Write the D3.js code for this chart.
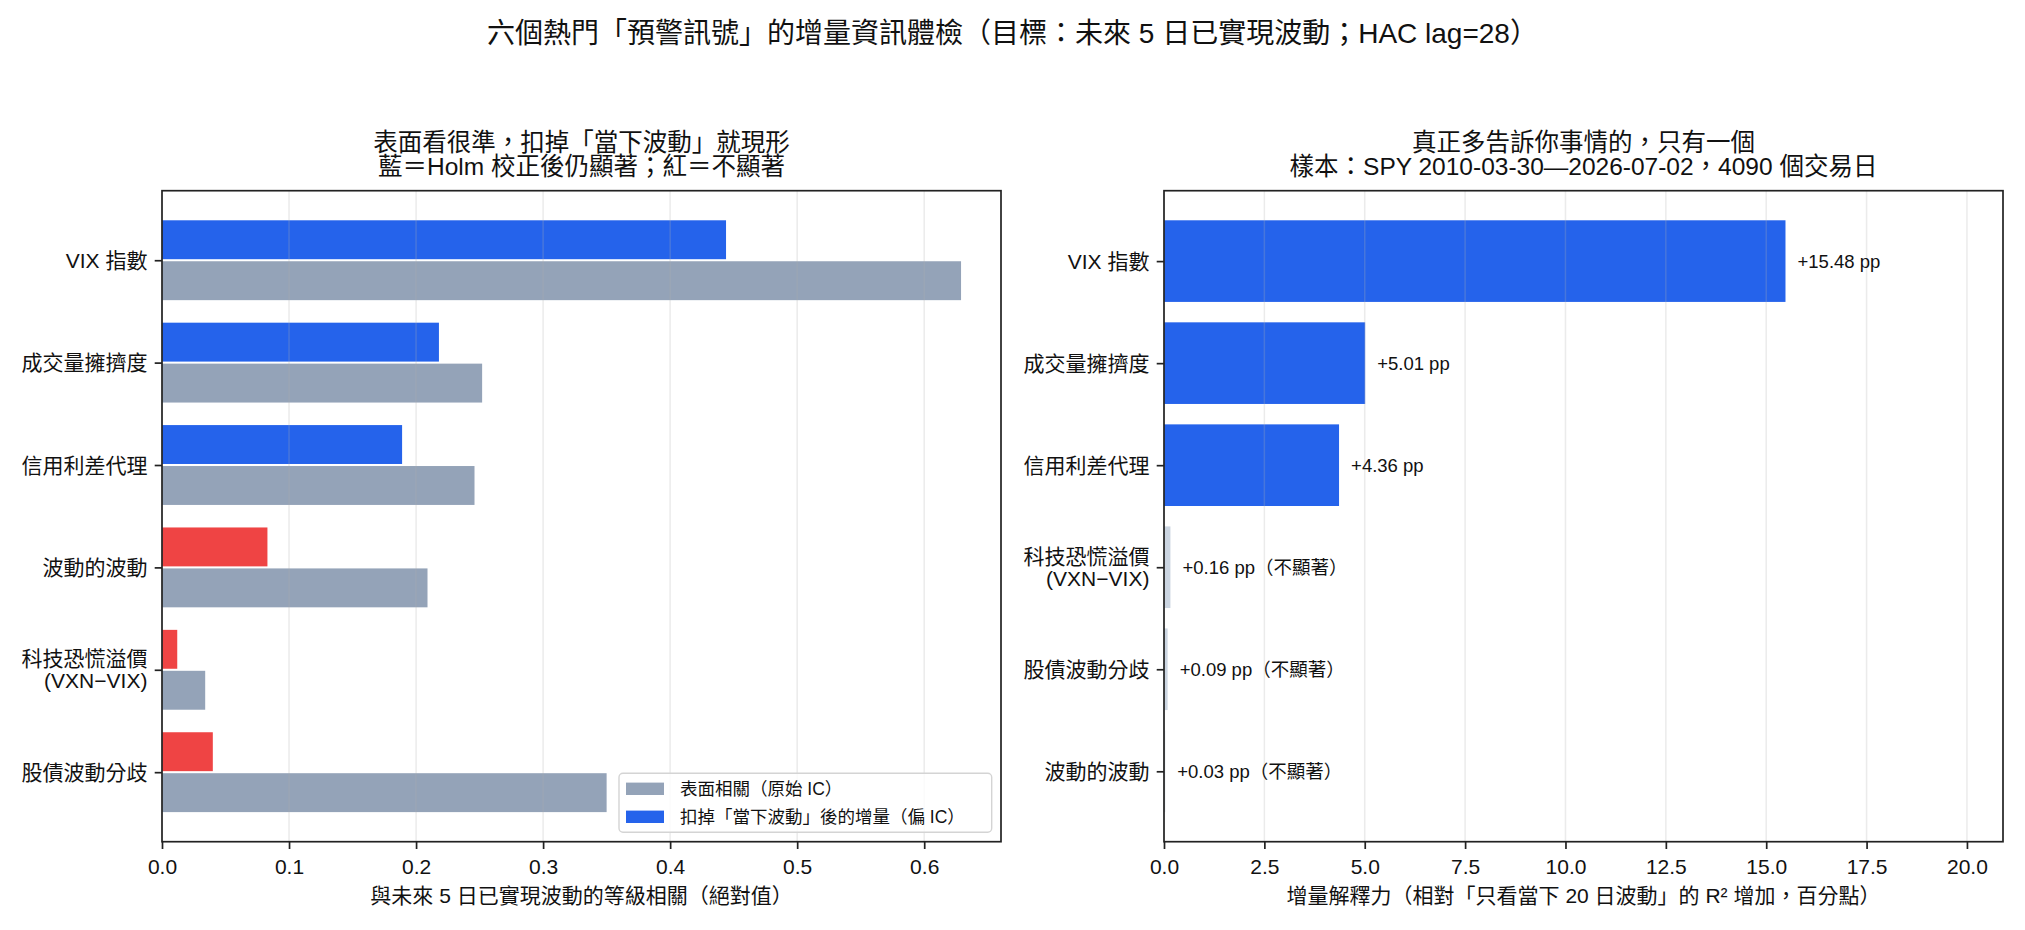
<!doctype html>
<html>
<head>
<meta charset="utf-8">
<title>增量資訊體檢</title>
<script src="https://d3js.org/d3.v7.min.js"></script>
<style>
  body { margin: 0; background: #fff; }
  svg { display: block; font-family: "Liberation Sans", "Noto Sans CJK TC", "Noto Sans CJK SC", sans-serif; }
</style>
</head>
<body>
<script>
// ---- data ----
var leftCats = ["VIX 指數", "成交量擁擠度", "信用利差代理", "波動的波動", "科技恐慌溢價\n(VXN−VIX)", "股債波動分歧"];
var rawIC = [0.629, 0.252, 0.246, 0.209, 0.034, 0.350];
var partialIC = [0.444, 0.218, 0.189, 0.083, 0.012, 0.040];
var partialSig = [true, true, true, false, false, false];

var rightCats = ["VIX 指數", "成交量擁擠度", "信用利差代理", "科技恐慌溢價\n(VXN−VIX)", "股債波動分歧", "波動的波動"];
var deltaR2 = [15.48, 5.01, 4.36, 0.16, 0.09, 0.03];
var deltaSig = [true, true, true, false, false, false];

var leftTicks = [0, 0.1, 0.2, 0.3, 0.4, 0.5, 0.6];
var rightTicks = [0, 2.5, 5, 7.5, 10, 12.5, 15, 17.5, 20];

var legendLabels = ["表面相關（原始 IC）", "扣掉「當下波動」後的增量（偏 IC）"];

var col = { gray: "#94a3b8", blue: "#2563eb", red: "#ef4444", light: "#cbd5e1", ink: "#222" };

var W = 2025, H = 930;
var svg = d3.select("body").append("svg").attr("width", W).attr("height", H);
svg.append("rect").attr("width", W).attr("height", H).attr("fill", "#fff");

svg.append("text").attr("x", W / 2).attr("y", 33).attr("text-anchor", "middle")
  .attr("dominant-baseline", "central").style("font-size", "28px").attr("fill", "#111")
  .text("六個熱門「預警訊號」的增量資訊體檢（目標：未來 5 日已實現波動；HAC lag=28）");

var yTop = 190.7, yBot = 841.7;
var tickFont = 21;

function drawTitle(cx, lines) {
  var t = svg.append("text").attr("text-anchor", "middle").style("font-size", "24.5px").attr("fill", "#111");
  lines.forEach(function (l, i) {
    t.append("tspan").attr("x", cx).attr("y", 142 + i * 24.5).attr("dominant-baseline", "central").text(l);
  });
}

function yLabels(g, cats, y, xr) {
  cats.forEach(function (c, i) {
    var lines = c.split("\n");
    var t = g.append("text").attr("text-anchor", "end").style("font-size", tickFont + "px").attr("fill", "#111");
    lines.forEach(function (l, k) {
      t.append("tspan").attr("x", xr).attr("y", y(i) + (k - (lines.length - 1) / 2) * 22)
        .attr("dominant-baseline", "central").text(l);
    });
  });
}

function frame(g, x, y, ticks, fmt, label, nCats) {
  var x0 = x.range()[0], x1 = x.range()[1];
  // grid
  g.selectAll(".grid").data(ticks).enter().append("line")
    .attr("x1", function (d) { return x(d); }).attr("x2", function (d) { return x(d); })
    .attr("y1", yTop).attr("y2", yBot)
    .attr("stroke", "#b0b0b0").attr("stroke-opacity", 0.25).attr("stroke-width", 1.5);
  // spines
  g.append("rect").attr("x", x0).attr("y", yTop).attr("width", x1 - x0).attr("height", yBot - yTop)
    .attr("fill", "none").attr("stroke", col.ink).attr("stroke-width", 1.7);
  // x ticks
  var xa = g.append("g").attr("transform", "translate(0," + yBot + ")")
    .call(d3.axisBottom(x).tickValues(ticks).tickFormat(fmt).tickSize(7.3));
  xa.select(".domain").remove();
  xa.selectAll("line").attr("stroke", col.ink).attr("stroke-width", 1.7);
  xa.selectAll("text").style("font-size", tickFont + "px").attr("font-family", null).attr("fill", "#111")
    .attr("y", 24.3).attr("dy", "0.36em");
  // y ticks
  var ya = g.append("g").attr("transform", "translate(" + x0 + ",0)")
    .call(d3.axisLeft(y).tickValues(d3.range(nCats)).tickFormat("").tickSize(7.3));
  ya.select(".domain").remove();
  ya.selectAll("line").attr("stroke", col.ink).attr("stroke-width", 1.7);
  g.append("text").attr("x", (x0 + x1) / 2).attr("y", 895).attr("text-anchor", "middle")
    .attr("dominant-baseline", "central").style("font-size", tickFont + "px").attr("fill", "#111").text(label);
}

// ---- left panel ----
var L = svg.append("g");
var xL = d3.scaleLinear().domain([0, d3.max(rawIC) * 1.05]).range([162, 1001]);
var yL = d3.scaleLinear().domain([-0.679, 5.679]).range([yTop, yBot]);
var bh = 0.38, off = 0.2;

L.selectAll(".raw").data(rawIC).enter().append("rect")
  .attr("x", xL(0)).attr("width", function (d) { return xL(d) - xL(0); })
  .attr("y", function (d, i) { return yL(i + off - bh / 2); })
  .attr("height", yL(bh) - yL(0)).attr("fill", col.gray);
L.selectAll(".par").data(partialIC).enter().append("rect")
  .attr("x", xL(0)).attr("width", function (d) { return xL(d) - xL(0); })
  .attr("y", function (d, i) { return yL(i - off - bh / 2); })
  .attr("height", yL(bh) - yL(0)).attr("fill", function (d, i) { return partialSig[i] ? col.blue : col.red; });

frame(L, xL, yL, leftTicks, d3.format(".1f"), "與未來 5 日已實現波動的等級相關（絕對值）", leftCats.length);
yLabels(L, leftCats, yL, 147.4);
drawTitle((162 + 1001) / 2, ["表面看很準，扣掉「當下波動」就現形", "藍＝Holm 校正後仍顯著；紅＝不顯著"]);

// legend
var lgR = 1001 - 9.3, lgB = yBot - 9.4, lgW = 372.7, lgH = 59;
var lg = L.append("g").attr("transform", "translate(" + (lgR - lgW) + "," + (lgB - lgH) + ")");
lg.append("rect").attr("width", lgW).attr("height", lgH).attr("rx", 4)
  .attr("fill", "#fff").attr("fill-opacity", 0.8).attr("stroke", "#d4d4d4").attr("stroke-width", 1.4);
[col.gray, col.blue].forEach(function (c, i) {
  var cy = 15.5 + i * 28;
  lg.append("rect").attr("x", 7).attr("y", cy - 6.2).attr("width", 38).attr("height", 12.4).attr("fill", c);
  lg.append("text").attr("x", 61).attr("y", cy).attr("dominant-baseline", "central")
    .style("font-size", "17.5px").attr("fill", "#111").text(legendLabels[i]);
});

// ---- right panel ----
var R = svg.append("g");
var xR = d3.scaleLinear().domain([0, d3.max(deltaR2) * 1.35]).range([1164, 2003]);
var yR = d3.scaleLinear().domain([-0.69, 5.69]).range([yTop, yBot]);
var rbh = 0.8;

R.selectAll(".d").data(deltaR2).enter().append("rect")
  .attr("x", xR(0)).attr("width", function (d) { return xR(d) - xR(0); })
  .attr("y", function (d, i) { return yR(i - rbh / 2); })
  .attr("height", yR(rbh) - yR(0)).attr("fill", function (d, i) { return deltaSig[i] ? col.blue : col.light; });

frame(R, xR, yR, rightTicks, d3.format(".1f"), "增量解釋力（相對「只看當下 20 日波動」的 R² 增加，百分點）", rightCats.length);
yLabels(R, rightCats, yR, 1149.4);
drawTitle((1164 + 2003) / 2, ["真正多告訴你事情的，只有一個", "樣本：SPY 2010-03-30—2026-07-02，4090 個交易日"]);

R.selectAll(".lab").data(deltaR2).enter().append("text")
  .attr("x", function (d) { return xR(d + 0.3); })
  .attr("y", function (d, i) { return yR(i); })
  .attr("dominant-baseline", "central").style("font-size", "18.5px").attr("fill", "#111")
  .text(function (d, i) { return "+" + d3.format(".2f")(d) + " pp" + (deltaSig[i] ? "" : "（不顯著）"); });
</script>
</body>
</html>
